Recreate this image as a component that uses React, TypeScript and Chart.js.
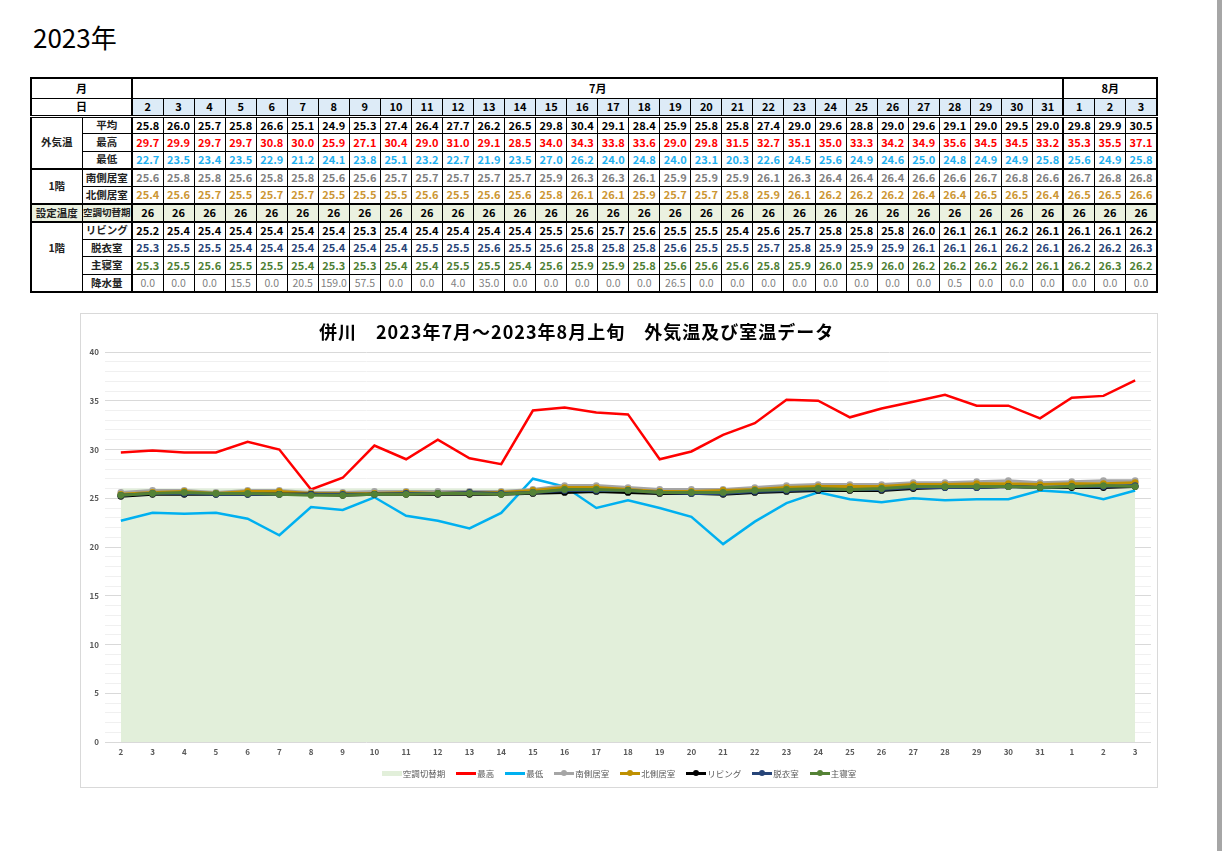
import React, { useEffect, useRef } from 'react';
import { Chart, registerables } from 'chart.js';

Chart.register(...registerables);

const FONT = "'Noto Sans CJK JP', 'Noto Sans', sans-serif";

// ---- data ----
const days = ['2','3','4','5','6','7','8','9','10','11','12','13','14','15','16','17','18','19','20','21','22','23','24','25','26','27','28','29','30','31','1','2','3'];
const julyCount = 30;
const augCount = 3;

const avgTemp = [25.8,26.0,25.7,25.8,26.6,25.1,24.9,25.3,27.4,26.4,27.7,26.2,26.5,29.8,30.4,29.1,28.4,25.9,25.8,25.8,27.4,29.0,29.6,28.8,29.0,29.6,29.1,29.0,29.5,29.0,29.8,29.9,30.5];
const maxTemp = [29.7,29.9,29.7,29.7,30.8,30.0,25.9,27.1,30.4,29.0,31.0,29.1,28.5,34.0,34.3,33.8,33.6,29.0,29.8,31.5,32.7,35.1,35.0,33.3,34.2,34.9,35.6,34.5,34.5,33.2,35.3,35.5,37.1];
const minTemp = [22.7,23.5,23.4,23.5,22.9,21.2,24.1,23.8,25.1,23.2,22.7,21.9,23.5,27.0,26.2,24.0,24.8,24.0,23.1,20.3,22.6,24.5,25.6,24.9,24.6,25.0,24.8,24.9,24.9,25.8,25.6,24.9,25.8];
const southRoom = [25.6,25.8,25.8,25.6,25.8,25.8,25.6,25.6,25.7,25.7,25.7,25.7,25.7,25.9,26.3,26.3,26.1,25.9,25.9,25.9,26.1,26.3,26.4,26.4,26.4,26.6,26.6,26.7,26.8,26.6,26.7,26.8,26.8];
const northRoom = [25.4,25.6,25.7,25.5,25.7,25.7,25.5,25.5,25.5,25.6,25.5,25.6,25.6,25.8,26.1,26.1,25.9,25.7,25.7,25.8,25.9,26.1,26.2,26.2,26.2,26.4,26.4,26.5,26.5,26.4,26.5,26.5,26.6];
const setTemp = [26,26,26,26,26,26,26,26,26,26,26,26,26,26,26,26,26,26,26,26,26,26,26,26,26,26,26,26,26,26,26,26,26];
const living = [25.2,25.4,25.4,25.4,25.4,25.4,25.4,25.3,25.4,25.4,25.4,25.4,25.4,25.5,25.6,25.7,25.6,25.5,25.5,25.4,25.6,25.7,25.8,25.8,25.8,26.0,26.1,26.1,26.2,26.1,26.1,26.1,26.2];
const dressing = [25.3,25.5,25.5,25.4,25.4,25.4,25.4,25.4,25.4,25.5,25.5,25.6,25.5,25.6,25.8,25.8,25.8,25.6,25.5,25.5,25.7,25.8,25.9,25.9,25.9,26.1,26.1,26.1,26.2,26.1,26.2,26.2,26.3];
const bedroom = [25.3,25.5,25.6,25.5,25.5,25.4,25.3,25.3,25.4,25.4,25.5,25.5,25.4,25.6,25.9,25.9,25.8,25.6,25.6,25.6,25.8,25.9,26.0,25.9,26.0,26.2,26.2,26.2,26.2,26.1,26.2,26.3,26.2];
const rain = [0.0,0.0,0.0,15.5,0.0,20.5,159.0,57.5,0.0,0.0,4.0,35.0,0.0,0.0,0.0,0.0,0.0,26.5,0.0,0.0,0.0,0.0,0.0,0.0,0.0,0.0,0.5,0.0,0.0,0.0,0.0,0.0,0.0];
const yLabelTicks = [0, 5, 10, 15, 20, 25, 30, 35, 40];

const chartTitle = '併川　2023年7月～2023年8月上旬　外気温及び室温データ';

type Row = {
  group?: string; span?: number; label: string; values: number[]; color: string;
  thickBottom?: boolean; bg?: string; int?: boolean; normal?: boolean; labelSize?: number;
};

const rows: Row[] = [
  { group: '外気温', span: 3, label: '平均', values: avgTemp, color: '#000000' },
  { label: '最高', values: maxTemp, color: '#ff0000' },
  { label: '最低', values: minTemp, color: '#1fb0f0', thickBottom: true },
  { group: '1階', span: 2, label: '南側居室', values: southRoom, color: '#7f7f7f' },
  { label: '北側居室', values: northRoom, color: '#cc9633', thickBottom: true },
  { group: '設定温度', span: 1, label: '空調切替期', values: setTemp, color: '#000000', bg: '#ebf1e0', thickBottom: true, int: true, labelSize: 9.5 },
  { group: '1階', span: 4, label: 'リビング', values: living, color: '#000000' },
  { label: '脱衣室', values: dressing, color: '#2a4577' },
  { label: '主寝室', values: bedroom, color: '#4f8035' },
  { label: '降水量', values: rain, color: '#7f7f7f', normal: true },
];

const legendItems = [
  { label: '空調切替期', color: '#e2efda', kind: 'area' },
  { label: '最高', color: '#ff0000', kind: 'line' },
  { label: '最低', color: '#00b0f0', kind: 'line' },
  { label: '南側居室', color: '#a5a5a5', kind: 'marker' },
  { label: '北側居室', color: '#bf9000', kind: 'marker' },
  { label: 'リビング', color: '#000000', kind: 'marker' },
  { label: '脱衣室', color: '#264478', kind: 'marker' },
  { label: '主寝室', color: '#548235', kind: 'marker' },
];

const B = '1px solid #000';
const BT = '2px solid #000';

function DataTable() {
  const base: React.CSSProperties = {
    border: B, padding: 0, textAlign: 'center', verticalAlign: 'middle',
    whiteSpace: 'nowrap', overflow: 'hidden', fontWeight: 700,
  };
  const trs: React.ReactNode[] = [];
  trs.push(
    <tr key="m" style={{ height: 20 }}>
      <td colSpan={2} style={{ ...base, borderRight: BT, fontSize: 11 }}>月</td>
      <td colSpan={julyCount} style={{ ...base, borderRight: BT, fontSize: 11 }}>7月</td>
      <td colSpan={augCount} style={{ ...base, fontSize: 11 }}>8月</td>
    </tr>
  );
  trs.push(
    <tr key="d" style={{ height: 18 }}>
      <td colSpan={2} style={{ ...base, borderRight: BT, borderBottom: '3px double #000', fontSize: 11 }}>日</td>
      {days.map((d, i) => (
        <td key={i} style={{ ...base, background: '#ddebf7', fontSize: 11, borderBottom: '3px double #000', borderRight: i === julyCount - 1 ? BT : B }}>{d}</td>
      ))}
    </tr>
  );
  rows.forEach((r, ri) => {
    const bb = r.thickBottom ? BT : B;
    const cells: React.ReactNode[] = [];
    if (r.group) {
      const isLast4 = r.span === 4;
      const lastRow = ri + (r.span || 1) - 1;
      cells.push(
        <td key="g" rowSpan={r.span} style={{ ...base, fontSize: 10.5, color: '#222', background: r.bg || '#fff', borderBottom: lastRow === 2 || lastRow === 4 || lastRow === 5 ? BT : B, paddingBottom: isLast4 ? 18 : 0 }}>{r.group}</td>
      );
    }
    cells.push(
      <td key="l" style={{ ...base, fontSize: r.labelSize || 10.5, color: '#222', background: r.bg || '#fff', borderRight: BT, borderBottom: bb }}>{r.label}</td>
    );
    r.values.forEach((v, i) => {
      cells.push(
        <td key={i} style={{ ...base, fontSize: r.normal ? 10.5 : 11, fontWeight: r.normal ? 400 : 700, color: r.color, background: r.bg || '#fff', borderBottom: bb, borderRight: i === julyCount - 1 ? BT : B }}>
          {r.int ? String(v) : v.toFixed(1)}
        </td>
      );
    });
    trs.push(<tr key={'r' + ri} style={{ height: 17.6 }}>{cells}</tr>);
  });
  return (
    <table style={{ position: 'absolute', left: 30, top: 77, width: 1128, borderCollapse: 'collapse', tableLayout: 'fixed', border: BT, fontFamily: FONT, lineHeight: 1 }}>
      <colgroup>
        <col style={{ width: 51 }} />
        <col style={{ width: 50 }} />
        {days.map((_, i) => <col key={i} />)}
      </colgroup>
      <tbody>{trs}</tbody>
    </table>
  );
}

function Legend() {
  return (
    <div style={{ position: 'absolute', left: 80, top: 766, width: 1078, height: 14, display: 'flex', justifyContent: 'center', alignItems: 'center', fontFamily: FONT, fontSize: 8.5, color: '#595959' }}>
      {legendItems.map((it, i) => (
        <div key={i} style={{ display: 'flex', alignItems: 'center', marginRight: i === legendItems.length - 1 ? 0 : 11 }}>
          <div style={{ position: 'relative', width: 20, height: 8, marginRight: 1 }}>
            <div style={{ position: 'absolute', left: 0, top: it.kind === 'area' ? 2 : 2.5, width: 20, height: it.kind === 'area' ? 5 : 3, background: it.color }} />
            {it.kind === 'marker' && (
              <div style={{ position: 'absolute', left: 7, top: 1, width: 6, height: 6, borderRadius: 3, background: it.color }} />
            )}
          </div>
          <span>{it.label}</span>
        </div>
      ))}
    </div>
  );
}

function TempChart() {
  const ref = useRef<HTMLCanvasElement | null>(null);
  useEffect(() => {
    if (!ref.current) return;
    const mk = (label: string, data: number[], color: string, width: number, points: boolean, order: number) => ({
      label, data, borderColor: color, backgroundColor: color, borderWidth: width,
      pointRadius: points ? 3.4 : 0, pointBackgroundColor: color, pointBorderColor: color,
      pointBorderWidth: 0, tension: 0, order, fill: false,
    });
    const chart = new Chart(ref.current, {
      type: 'line',
      data: {
        labels: days,
        datasets: [
          { label: '空調切替期', data: setTemp, fill: 'origin', backgroundColor: '#e2efda', borderColor: 'rgba(0,0,0,0)', borderWidth: 0, pointRadius: 0, order: 10 } as any,
          mk('最高', maxTemp, '#ff0000', 2.5, false, 7),
          mk('最低', minTemp, '#00b0f0', 2.5, false, 6),
          mk('南側居室', southRoom, '#a5a5a5', 3, true, 5),
          mk('北側居室', northRoom, '#bf9000', 3, true, 4),
          mk('リビング', living, '#000000', 3, true, 3),
          mk('脱衣室', dressing, '#264478', 3, true, 2),
          mk('主寝室', bedroom, '#548235', 3, true, 1),
        ],
      },
      options: {
        animation: false,
        responsive: false,
        layout: { padding: { left: 0, right: 7, top: 39, bottom: 26 } },
        plugins: { legend: { display: false }, title: { display: false }, tooltip: { enabled: false } },
        scales: {
          x: {
            type: 'category', offset: true,
            grid: { display: false, drawTicks: false },
            border: { display: false },
            ticks: { color: '#595959', font: { family: FONT, size: 8, weight: 'bold' }, padding: 5, maxRotation: 0, autoSkip: false },
            afterFit: (s: any) => { s.height = 20; },
          },
          y: {
            min: 0, max: 40,
            ticks: {
              stepSize: 1, autoSkip: false,
              color: '#595959', font: { family: FONT, size: 8, weight: 'bold' }, padding: 6,
              callback: (v: any) => (yLabelTicks.includes(Number(v)) ? String(v) : ''),
            },
            grid: {
              drawTicks: false, lineWidth: 1,
              color: (ctx: any) => (ctx.tick && yLabelTicks.includes(ctx.tick.value) ? '#d9d9d9' : '#f0f0f0'),
            },
            border: { display: false },
            afterFit: (s: any) => { s.width = 25; },
          },
        },
      } as any,
    });
    return () => chart.destroy();
  }, []);
  return <canvas ref={ref} width={1078} height={475} style={{ position: 'absolute', left: 80, top: 313, width: 1078, height: 475 }} />;
}

export default function App() {
  return (
    <div style={{ position: 'absolute', left: 0, top: 0, width: 1222, height: 851, background: '#fff', overflow: 'hidden', fontFamily: FONT }}>
      <div style={{ position: 'absolute', left: 33, top: 22, fontSize: 26, lineHeight: '30px', color: '#000', fontFamily: FONT }}>2023年</div>
      <DataTable />
      <div style={{ position: 'absolute', left: 80, top: 313, width: 1078, height: 475, boxSizing: 'border-box', border: '1px solid #d9d9d9' }} />
      <TempChart />
      <div style={{ position: 'absolute', left: 319, top: 320, fontSize: 18, fontWeight: 700, lineHeight: '22px', letterSpacing: 1, color: '#000', whiteSpace: 'nowrap', fontFamily: FONT }}>{chartTitle}</div>
      <Legend />
      <div style={{ position: 'absolute', left: 1217, top: 0, width: 5, height: 851, background: '#a6a6a6' }} />
    </div>
  );
}
